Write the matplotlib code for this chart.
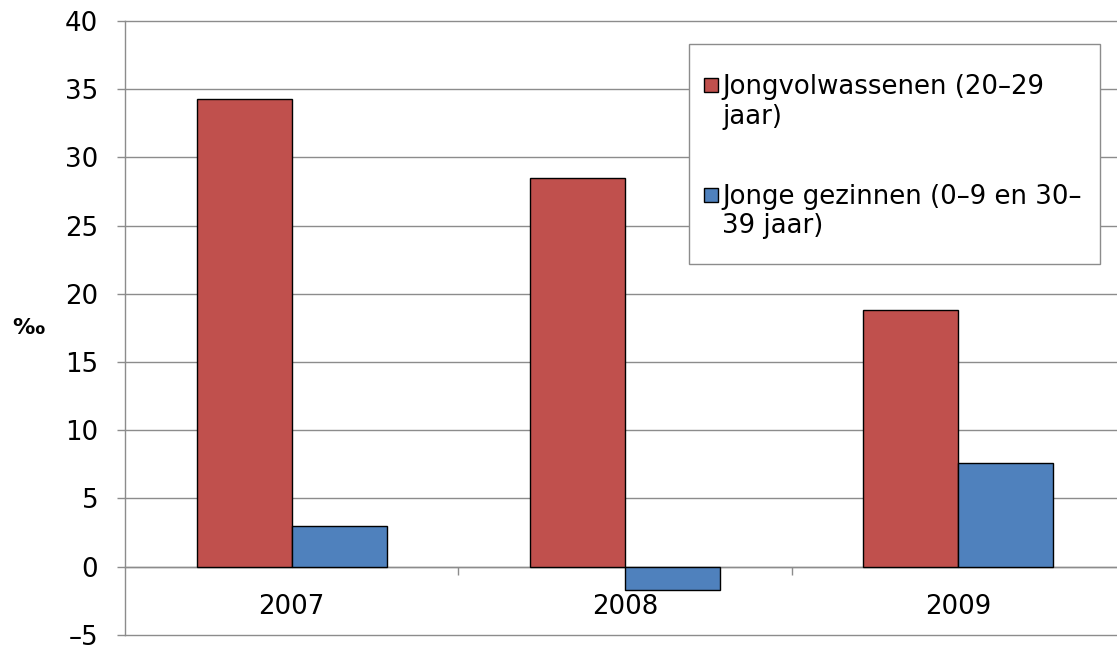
import matplotlib
matplotlib.use("Agg")
import matplotlib.pyplot as plt
from matplotlib.patches import Rectangle

years = ["2007", "2008", "2009"]
series_names = ["Jongvolwassenen (20–29\njaar)", "Jonge gezinnen (0–9 en 30–\n39 jaar)"]
jongvolwassenen = [34.3, 28.5, 18.8]
jonge_gezinnen = [3.0, -1.7, 7.6]
colors = ["#C0504D", "#4F81BD"]
yticks = [-5, 0, 5, 10, 15, 20, 25, 30, 35, 40]
ytick_labels = ["–5", "0", "5", "10", "15", "20", "25", "30", "35", "40"]
ylabel = "‰"

W, H = 1117, 645
plt.rcParams['font.family'] = ['DejaVu Sans']
FS = 18.7
GRID = "#8C8C8C"
LW = 1.0

fig = plt.figure(figsize=(W / 100, H / 100), dpi=100)
def fx(x): return x / W
def fy(y): return 1 - y / H

ax = fig.add_axes([fx(125), fy(634.7), fx(1125) - fx(125), fy(21) - fy(634.7)])
ax.set_xlim(-0.5, 2.5)
ax.set_ylim(-5, 40)

bw = 0.285
xs = list(range(len(years)))
ax.bar([x - bw / 2 for x in xs], jongvolwassenen, width=bw, color=colors[0],
       edgecolor="black", linewidth=1.0, zorder=3)
ax.bar([x + bw / 2 for x in xs], jonge_gezinnen, width=bw, color=colors[1],
       edgecolor="black", linewidth=1.0, zorder=3)

# gridlines
ax.set_yticks(yticks)
ax.set_yticklabels(ytick_labels, fontsize=FS)
ax.yaxis.grid(True, color=GRID, linewidth=LW, zorder=0)
for gl in ax.get_ygridlines():
    gl.set_clip_on(False)
ax.set_axisbelow(True)
ax.tick_params(axis='y', length=5.8, width=LW, color=GRID, pad=13.5)

for s in ["top", "right"]:
    ax.spines[s].set_visible(False)
ax.spines["left"].set_color(GRID)
ax.spines["left"].set_linewidth(LW)
ax.spines["bottom"].set_position(("data", 0))
ax.spines["bottom"].set_color(GRID)
ax.spines["bottom"].set_linewidth(LW)
ax.spines["bottom"].set_zorder(2.5)

ax.set_xticks([0.5, 1.5, 2.5])
ax.set_xticklabels([])
ax.tick_params(axis='x', length=5.8, width=LW, color=GRID, direction='out')
for x, lab in zip(xs, years):
    ax.text(x, -2.95, lab, ha='center', va='center', fontsize=FS)

fig.text(fx(28), fy(328), ylabel, ha='center', va='center', fontsize=16, fontweight='bold')

# legend
box = Rectangle((fx(689), fy(263.5)), fx(1100) - fx(689), fy(44.3) - fy(263.5),
                transform=fig.transFigure, facecolor='white', edgecolor=GRID,
                linewidth=LW, zorder=5)
fig.add_artist(box)
entries_y = [92, 202]
for name, col, yb in zip(series_names, colors, entries_y):
    sq = Rectangle((fx(703.5), fy(yb)), fx(718) - fx(703.5), fy(yb - 14.5) - fy(yb),
                   transform=fig.transFigure, facecolor=col, edgecolor='black',
                   linewidth=1.0, zorder=6)
    fig.add_artist(sq)
    fig.text(fx(722), fy(yb + 31.5), name, ha='left', va='baseline', fontsize=FS,
             linespacing=1.18, zorder=7)

fig.savefig("out.png", dpi=100)
